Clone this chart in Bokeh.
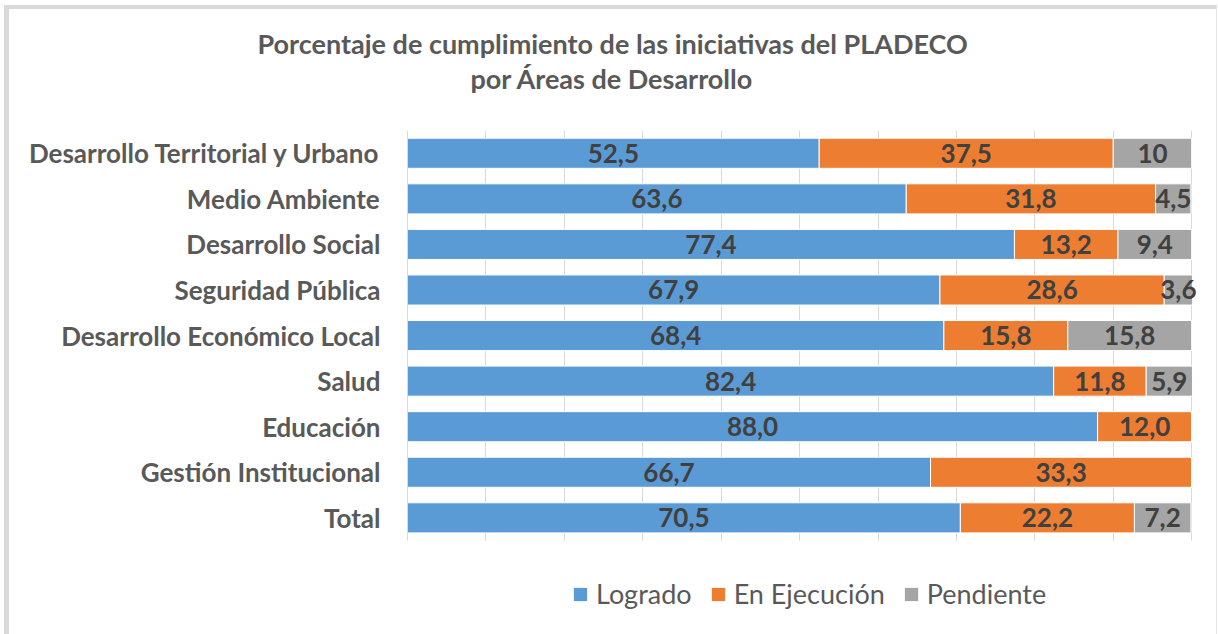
from bokeh.plotting import figure
from bokeh.models import (ColumnDataSource, Range1d, Legend, Title, LegendItem,
                          SingleIntervalTicker, FixedTicker, InlineStyleSheet,
                          BoxAnnotation)
from bokeh.core.properties import value
from bokeh.embed import file_html
from bokeh.resources import INLINE

# ---- data (top to bottom as in the chart) ----
categories = ["Desarrollo Territorial y Urbano", "Medio Ambiente", "Desarrollo Social",
              "Seguridad Pública", "Desarrollo Económico Local", "Salud", "Educación",
              "Gestión Institucional", "Total"]
logrado = [52.5, 63.6, 77.4, 67.9, 68.4, 82.4, 88.0, 66.7, 70.5]
ejecucion = [37.5, 31.8, 13.2, 28.6, 15.8, 11.8, 12.0, 33.3, 22.2]
pendiente = [10.0, 4.5, 9.4, 3.6, 15.8, 5.9, 0.0, 0.0, 7.2]
labels_logrado = ["52,5", "63,6", "77,4", "67,9", "68,4", "82,4", "88,0", "66,7", "70,5"]
labels_ejecucion = ["37,5", "31,8", "13,2", "28,6", "15,8", "11,8", "12,0", "33,3", "22,2"]
labels_pendiente = ["10", "4,5", "9,4", "3,6", "15,8", "5,9", "", "", "7,2"]
series_names = ["Logrado", "En Ejecución", "Pendiente"]
colors = ["#5B9BD5", "#ED7D31", "#A5A5A5"]
title_lines = ["Porcentaje de cumplimiento de las iniciativas del PLADECO",
               "por Áreas de Desarrollo"]

FONT = "Lato"
W, H = 1218, 634
n = len(categories)
ypos = list(range(n - 1, -1, -1))          # top category highest

p = figure(width=W, height=H, output_backend="svg", toolbar_location=None,
           y_range=Range1d(-2.56, n - 0.5), x_range=Range1d(0, 102.4),
           min_border_left=407, min_border_right=8,
           min_border_top=130, min_border_bottom=0)
p.title.visible = False
p.outline_line_color = None
p.background_fill_color = "white"
p.border_fill_color = "white"

series = [logrado, ejecucion, pendiente]
series_labels = [labels_logrado, labels_ejecucion, labels_pendiente]
lefts = [0.0] * n
renderers = []
for vals, labs, col in zip(series, series_labels, colors):
    rights = [l + v for l, v in zip(lefts, vals)]
    mids = [l + v / 2 for l, v in zip(lefts, vals)]
    src = ColumnDataSource(dict(y=ypos, left=lefts, right=rights, mid=mids, text=labs))
    r = p.hbar(y="y", left="left", right="right", height=0.66, source=src,
               fill_color=col, line_color="white", line_width=1)
    renderers.append(r)
    lefts = rights
for r in renderers:
    p.text(x="mid", y="y", text="text", source=r.data_source, text_align="center",
           text_baseline="middle", text_font=value(FONT), text_font_style="bold",
           text_font_size="26px", text_color="#404040")

# grid: vertical lines every 10 %, hidden below the last bar band
p.xaxis.visible = False
p.xgrid.ticker = SingleIntervalTicker(interval=10)
p.xgrid.grid_line_color = "#D9D9D9"
p.xgrid.grid_line_width = 1
p.ygrid.grid_line_color = None
p.add_layout(BoxAnnotation(top=-0.5, fill_color="white", fill_alpha=1,
                           line_color=None, level="underlay"))

# category axis
ya = p.yaxis[0]
ya.ticker = FixedTicker(ticks=ypos)
ya.major_label_overrides = {y: c for y, c in zip(ypos, categories)}
ya.bounds = (-0.5, n - 0.5)
ya.axis_line_color = "#D9D9D9"
ya.axis_line_width = 1
ya.major_tick_line_color = None
ya.minor_tick_line_color = None
ya.major_tick_out = 0
ya.major_tick_in = 0
ya.major_label_standoff = 27
ya.major_label_text_font = FONT
ya.major_label_text_font_style = "bold"
ya.major_label_text_font_size = "26px"
ya.major_label_text_color = "#595959"

# title: two lines stacked above the frame (first added = closest to the frame)
p.add_layout(Title(text=" ", text_font_size="30px", standoff=0), "above")
p.add_layout(Title(text=title_lines[1], align="left", offset=63, standoff=0,
                   vertical_align="middle", text_font=FONT, text_font_style="bold",
                   text_font_size="27px", text_color="#595959"), "above")
p.add_layout(Title(text=title_lines[0], align="left", offset=-150, standoff=0,
                   vertical_align="middle", text_font=FONT, text_font_style="bold",
                   text_font_size="27px", text_color="#595959"), "above")

# legend inside the (extended) frame, below the bars
legend = Legend(items=[LegendItem(label=s, renderers=[r]) for s, r in zip(series_names, renderers)],
                orientation="horizontal", location=(164, 24),
                padding=0, margin=0, spacing=17, label_standoff=7,
                glyph_width=18, glyph_height=18,
                label_text_font=FONT, label_text_font_size="27px",
                label_text_color="#595959",
                border_line_color=None, background_fill_alpha=0)
p.add_layout(legend, "center")

# light grey chart border
p.stylesheets = [InlineStyleSheet(css=(
    ":host::after { content: ''; position: absolute; left: 4px; top: 5px; right: 1px;"
    " bottom: 0px; border-left: 5px solid #D9D9D9; border-top: 4px solid #D9D9D9;"
    " border-right: 1px solid #E6E6E6; pointer-events: none; z-index: 10; }"))]

open("out.html", "w").write(file_html(p, INLINE))
